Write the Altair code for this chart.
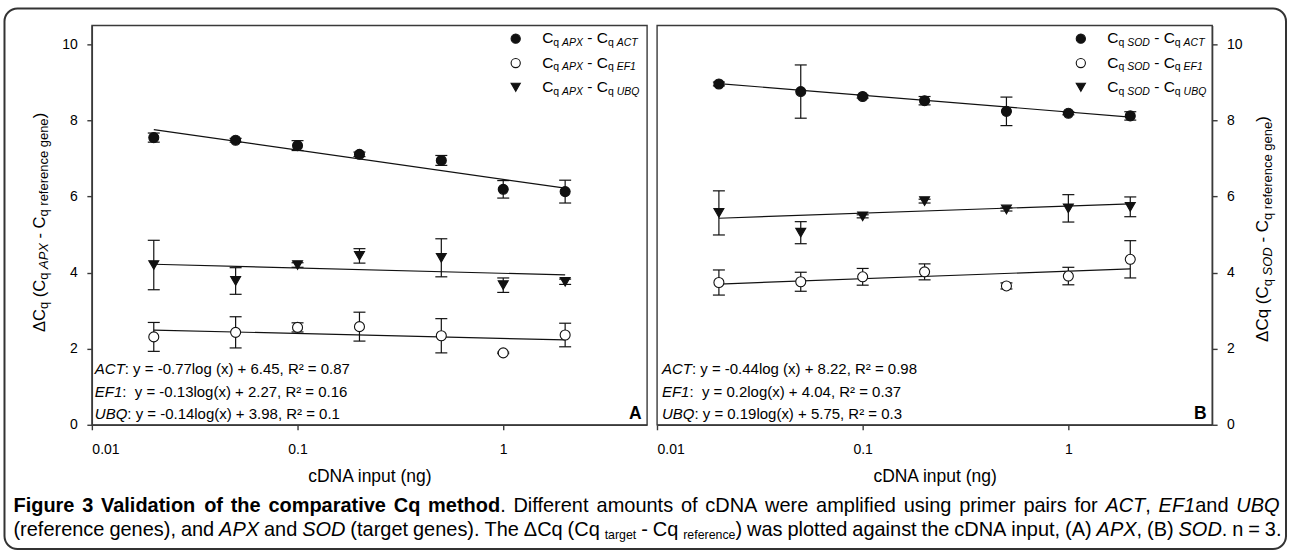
import altair as alt
import pandas as pd

# ---------------- values ----------------
cdna_ng = [0.02, 0.05, 0.1, 0.2, 0.5, 1, 2]
refs = ["ACT", "EF1", "UBQ"]

apx_act = [7.55, 7.48, 7.34, 7.11, 6.95, 6.19, 6.13]
apx_act_sd = [0.12, 0.05, 0.13, 0.06, 0.13, 0.23, 0.30]
apx_ef1 = [2.31, 2.43, 2.56, 2.58, 2.34, 1.89, 2.36]
apx_ef1_sd = [0.38, 0.41, 0.12, 0.38, 0.45, 0.02, 0.31]
apx_ubq = [4.20, 3.78, 4.20, 4.44, 4.39, 3.67, 3.76]
apx_ubq_sd = [0.65, 0.35, 0.06, 0.19, 0.50, 0.19, 0.07]

sod_act = [8.96, 8.76, 8.63, 8.52, 8.24, 8.19, 8.12]
sod_act_sd = [0.05, 0.70, 0.04, 0.11, 0.375, 0.04, 0.11]
sod_ef1 = [3.74, 3.76, 3.89, 4.02, 3.65, 3.91, 4.35]
sod_ef1_sd = [0.33, 0.25, 0.22, 0.21, 0.08, 0.23, 0.49]
sod_ubq = [5.57, 5.05, 5.48, 5.88, 5.66, 5.69, 5.73]
sod_ubq_sd = [0.58, 0.29, 0.04, 0.05, 0.04, 0.36, 0.26]

# fitted lines, read at the first and last cDNA amount
fit_x = [0.02, 2]
apx_fit_start = [7.76, 2.49, 4.22]
apx_fit_end = [6.22, 2.23, 3.94]
sod_fit_start = [8.97, 3.70, 5.43]
sod_fit_end = [8.09, 4.10, 5.81]

apx_eq = [": y = -0.77log (x) + 6.45, R\u00b2 = 0.87",
          ":\u00a0 y = -0.13log(x) + 2.27, R\u00b2 = 0.16",
          ": y = -0.14log(x) + 3.98, R\u00b2 = 0.1"]
sod_eq = [": y = -0.44log (x) + 8.22, R\u00b2 = 0.98",
          ":\u00a0 y = 0.2log(x) + 4.04, R\u00b2 = 0.37",
          ": y = 0.19log(x) + 5.75, R\u00b2 = 0.3"]

x_ticks = [0.01, 0.1, 1]
y_ticks = [0, 2, 4, 6, 8, 10]
x_title = "cDNA input (ng)"

# ---------------- fonts / metrics ----------------
FIG = "Liberation Sans, Arial, Helvetica, sans-serif"
CAP = "Liberation Sans, Arial, Helvetica, sans-serif"
INK = "#111111"
FRAME = "#3a3a3a"

REG = {' ': 278, '\u00a0': 278, '(': 333, ')': 333, ',': 278, '-': 333, '.': 278,
       ':': 278, '=': 584, '+': 584, '\u00b2': 333, '\u0394': 668}
BOLD = {' ': 278, '(': 333, ')': 333, ',': 278, '-': 333, '.': 278, ':': 333}
for c in "0123456789":
    REG[c] = 556
    BOLD[c] = 556
for c, w in zip("ABCDEFGHIJKLMNOPQRSTUVWXYZ",
                [667, 667, 722, 722, 667, 611, 778, 722, 278, 500, 667, 556, 833, 722, 778,
                 667, 778, 722, 667, 611, 722, 667, 944, 667, 667, 611]):
    REG[c] = w
for c, w in zip("abcdefghijklmnopqrstuvwxyz",
                [556, 556, 500, 556, 556, 278, 556, 556, 222, 222, 500, 222, 833, 556, 556,
                 556, 556, 333, 500, 278, 556, 500, 722, 500, 500, 500]):
    REG[c] = w
for c, w in zip("ABCDEFGHIJKLMNOPQRSTUVWXYZ",
                [722, 722, 722, 722, 667, 611, 778, 722, 278, 556, 722, 611, 833, 722, 778,
                 667, 778, 722, 667, 611, 722, 667, 944, 667, 667, 611]):
    BOLD[c] = w
for c, w in zip("abcdefghijklmnopqrstuvwxyz",
                [556, 611, 556, 611, 556, 333, 611, 611, 278, 278, 556, 278, 889, 611, 611,
                 611, 611, 389, 556, 333, 611, 556, 778, 556, 556, 500]):
    BOLD[c] = w


def tw(s, fs, bold=False, k=1.0):
    tab = BOLD if bold else REG
    return sum(tab.get(c, 556) for c in s) * fs / 1000.0 * k


pieces = {"A": [], "B": []}


def put(panel, text, x, y, fs, style="normal", weight="normal", font=FIG, angle=0, align="left"):
    pieces[panel].append(dict(t=text, px=x, py=y, fs=fs, style=style, weight=weight,
                              font=font, angle=angle, align=align))


def run(panel, x, y, segs, font=FIG, angle=0, k=1.0):
    ux, uy, nx, ny = (1, 0, 0, 1) if angle == 0 else (0, -1, 1, 0)
    cur = 0.0
    for text, fs, style, weight, shift in segs:
        bold = weight == "bold"
        lead = len(text) - len(text.lstrip(" "))
        off = cur + tw(text[:lead], fs, bold, k)
        body = text.strip(" ")
        if body:
            put(panel, body, x + ux * off + nx * shift, y + uy * off + ny * shift,
                fs, style, weight, font, angle)
        cur += tw(text, fs, bold, k)
    return cur


# panel geometry (pixels)
W, H = 556, 400
A_LEFT, TOP = 90.5, 24.0

# legends
LEG_SYM_X = 424.5
LEG_TXT_X = 451.0
LEG_ROWS = [13.3, 37.7, 62.0]
for panel, target in (("A", "APX"), ("B", "SOD")):
    for ref, ry in zip(refs, LEG_ROWS):
        run(panel, LEG_TXT_X, ry + 4.5,
            [("C", 15.5, "normal", "normal", 0), ("q ", 10.5, "normal", "normal", 2.8),
             (target, 10.5, "italic", "normal", 2.8), (" - C", 15.5, "normal", "normal", 0),
             ("q ", 10.5, "normal", "normal", 2.8), (ref, 10.5, "italic", "normal", 2.8)])

# equations
EQ_X = {"A": 3.0, "B": 5.0}
EQ_ROWS = [349.0, 372.0, 394.5]
for panel, eqs in (("A", apx_eq), ("B", sod_eq)):
    for ref, eq, ry in zip(refs, eqs, EQ_ROWS):
        run(panel, EQ_X[panel], ry, [(ref, 15, "italic", "normal", 0), (eq, 15, "normal", "normal", 0)])

put("A", "A", W - 5.5, 394.0, 17.5, weight="bold", align="right")
put("B", "B", W - 5.5, 394.0, 17.5, weight="bold", align="right")

# rotated y titles
LA, SA = 16.5, 13
run("A", 43.5 - A_LEFT, 331 - TOP,
    [("\u0394C", LA, "normal", "normal", 0), ("q", SA, "normal", "normal", 3.5),
     (" (C", LA, "normal", "normal", 0), ("q ", SA, "normal", "normal", 3.5),
     ("APX", SA, "italic", "normal", 3.5), (" - C", LA, "normal", "normal", 0),
     ("q reference gene", SA, "normal", "normal", 3.5), (")", LA, "normal", "normal", 0)], angle=270)

LB, SB = 17, 13
run("B", 1268 - 656.5, 341 - TOP,
    [("\u0394Cq", LB, "normal", "normal", 0), (" (C", LB, "normal", "normal", 0),
     ("q ", SB, "normal", "normal", 4), ("SOD", SB, "italic", "normal", 4),
     (" - C", LB, "normal", "normal", 0), ("q reference gene", SB, "normal", "normal", 4),
     (")", LB, "normal", "normal", 0)], angle=270)

# caption (justified lines, in panel A coordinates)
CAP_FS = 20
cap_line1 = [[("Figure", "B")], [("3", "B")], [("Validation", "B")], [("of", "B")], [("the", "B")],
             [("comparative", "B")], [("Cq", "B")], [("method", "B"), (".", "R")], [("Different", "R")],
             [("amounts", "R")], [("of", "R")], [("cDNA", "R")], [("were", "R")], [("amplified", "R")],
             [("using", "R")], [("primer", "R")], [("pairs", "R")], [("for", "R")],
             [("ACT", "I"), (",", "R")], [("EF1", "I"), ("and", "R")], [("UBQ", "I")]]
cap_line2 = [[("(reference", "R")], [("genes),", "R")], [("and", "R")], [("APX", "I")], [("and", "R")],
             [("SOD", "I")], [("(target", "R")], [("genes).", "R")], [("The", "R")], [("\u0394Cq", "R")],
             [("(Cq", "R")], [("target", "S")], [("-", "R")], [("Cq", "R")], [("reference", "S"), (")", "R")],
             [("was", "R")], [("plotted", "R")], [("against", "R")], [("the", "R")], [("cDNA", "R")],
             [("input,", "R")], [("(A)", "R")], [("APX", "I"), (",", "R")], [("(B)", "R")],
             [("SOD", "I"), (".", "R")], [("n", "R")], [("=", "R")], [("3.", "R")]]


def cap_seg(t, kind):
    fs = CAP_FS * 0.62 if kind == "S" else CAP_FS
    style = "italic" if kind == "I" else "normal"
    weight = "bold" if kind == "B" else "normal"
    shift = 3.5 if kind == "S" else 0
    return (t, fs, style, weight, shift)


def cap_line(tokens, x_left, x_right, base_y):
    segs = [[cap_seg(*p) for p in tok] for tok in tokens]
    widths = [sum(tw(s[0], s[1], s[3] == "bold") for s in tok) for tok in segs]
    gap = (x_right - x_left - sum(widths)) / (len(tokens) - 1)
    x = x_left
    for tok, w in zip(segs, widths):
        run("A", x, base_y, tok, font=CAP)
        x += w + gap


cap_line(cap_line1, 12 - A_LEFT, 1280 - A_LEFT, 511 - TOP)
cap_line(cap_line2, 12 - A_LEFT, 1282 - A_LEFT, 535 - TOP)


# ---------------- chart construction ----------------
def long_df(vals, sds):
    rows = []
    for ref, v, s in zip(refs, vals, sds):
        for x, y, e in zip(cdna_ng, v, s):
            rows.append(dict(ref=ref, x=x, y=y, lo=y - e, hi=y + e))
    return pd.DataFrame(rows)


def fit_df(starts, ends):
    return pd.DataFrame(dict(ref=refs, x0=fit_x[0], x1=fit_x[1], y0=starts, y1=ends))


XS = alt.Scale(type="log", domain=[0.01, 5], nice=False)
YS = alt.Scale(domain=[0, 10.5], nice=False, zero=False)
SYM = 100


def panel(name, df, fits, y_orient):
    xaxis = alt.Axis(values=x_ticks, format="~g", title=x_title, titleFontSize=17.5,
                     labelPadding=13, titlePadding=11, grid=False)
    yaxis = alt.Axis(values=y_ticks, orient=y_orient, title=None, labelPadding=9.5, grid=False)

    def X(f):
        return alt.X(f, scale=XS, axis=xaxis, title=x_title)

    def Y(f):
        return alt.Y(f, scale=YS, axis=yaxis, title=None)

    layers = []
    if name == "A":
        border = alt.Chart(pd.DataFrame({"k": [0]})).mark_rect(
            filled=False, stroke="#333333", strokeWidth=2, cornerRadius=13
        ).encode(x=alt.value(3 - A_LEFT), x2=alt.value(1286.5 - A_LEFT),
                 y=alt.value(7 - TOP), y2=alt.value(548.5 - TOP))
        layers.append(border)
    fit = alt.Chart(fits).mark_rule(color=INK, strokeWidth=1.2).encode(
        x=X("x0:Q"), x2="x1:Q", y=Y("y0:Q"), y2="y1:Q")
    bars = alt.Chart(df).mark_rule(color=INK, strokeWidth=1.2).encode(
        x=X("x:Q"), y=Y("lo:Q"), y2="hi:Q")
    cap_hi = alt.Chart(df).mark_rule(color=INK, strokeWidth=1.2, xOffset=-6, x2Offset=6).encode(
        x=X("x:Q"), x2="x:Q", y=Y("hi:Q"))
    cap_lo = alt.Chart(df).mark_rule(color=INK, strokeWidth=1.2, xOffset=-6, x2Offset=6).encode(
        x=X("x:Q"), x2="x:Q", y=Y("lo:Q"))
    layers += [fit, bars, cap_hi, cap_lo]
    styles = {"ACT": ("circle", INK), "EF1": ("circle", "white"), "UBQ": ("triangle-down", INK)}
    for ref in refs:
        shape, fill = styles[ref]
        layers.append(alt.Chart(df).transform_filter(alt.datum.ref == ref).mark_point(
            shape=shape, filled=True, fill=fill, stroke=INK, strokeWidth=1.1, size=SYM, opacity=1
        ).encode(x=X("x:Q"), y=Y("y:Q")))
    # legend symbols
    for ref, ry in zip(refs, LEG_ROWS):
        shape, fill = styles[ref]
        layers.append(alt.Chart(pd.DataFrame({"ref": [ref]})).mark_point(
            shape=shape, filled=True, fill=fill, stroke=INK, strokeWidth=1.1, size=SYM * 0.85, opacity=1
        ).encode(x=alt.value(LEG_SYM_X), y=alt.value(ry)))
    # text pieces
    pdf = pd.DataFrame(pieces[name])
    for key, g in pdf.groupby(["style", "weight", "font", "angle", "align"]):
        style, weight, font, angle, align = key
        layers.append(alt.Chart(g[["t", "px", "py", "fs"]].reset_index(drop=True)).mark_text(
            font=font, fontStyle=style, fontWeight=weight, angle=float(angle), align=align,
            baseline="alphabetic", color="black"
        ).encode(x=alt.X("px:Q", scale=None), y=alt.Y("py:Q", scale=None),
                 size=alt.Size("fs:Q", scale=None), text="t:N"))
    return alt.layer(*layers).properties(width=W, height=H)


pa = panel("A", long_df([apx_act, apx_ef1, apx_ubq], [apx_act_sd, apx_ef1_sd, apx_ubq_sd]),
           fit_df(apx_fit_start, apx_fit_end), "left")
pb = panel("B", long_df([sod_act, sod_ef1, sod_ubq], [sod_act_sd, sod_ef1_sd, sod_ubq_sd]),
           fit_df(sod_fit_start, sod_fit_end), "right")

chart = alt.hconcat(pa, pb, spacing=10, bounds="flush").properties(
    padding={"left": 2, "top": 6, "right": 2, "bottom": 2}, background="white"
).configure_view(stroke=FRAME, strokeWidth=1.4).configure_axis(
    grid=False, domainColor=FRAME, domainWidth=1.4, tickColor=FRAME, tickWidth=1.4, tickSize=5,
    labelFont=FIG, labelFontSize=14, labelColor="black", titleFont=FIG, titleColor="black",
    titleFontWeight="normal")

chart.save("out.html", embed_options={"renderer": "svg", "actions": False})
